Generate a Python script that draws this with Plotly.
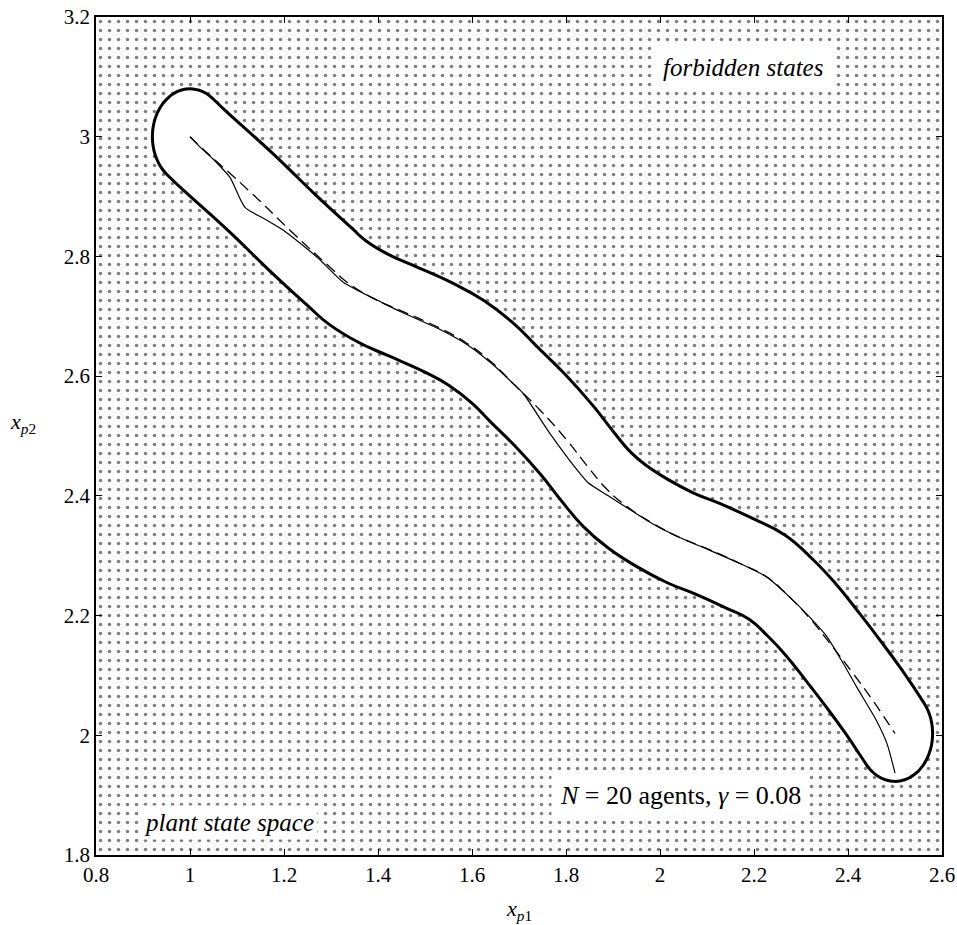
import numpy as np
import plotly.graph_objects as go

# ---- data ----
gamma = 0.08  # tube radius

ref_x = [1.000, 1.028, 1.128, 1.219, 1.298, 1.334, 1.390, 1.447, 1.532, 1.589, 1.645, 1.687,
         1.745, 1.802, 1.845, 1.887, 1.930, 1.985, 2.043, 2.100, 2.170, 2.228, 2.277, 2.319,
         2.368, 2.411, 2.453, 2.500]
ref_y = [3.000, 2.979, 2.908, 2.839, 2.782, 2.757, 2.730, 2.710, 2.680, 2.655, 2.621, 2.588,
         2.543, 2.493, 2.450, 2.411, 2.382, 2.354, 2.330, 2.312, 2.287, 2.264, 2.230, 2.195,
         2.147, 2.103, 2.058, 2.003]

traj_x = [1.000, 1.021, 1.050, 1.085, 1.117, 1.160, 1.198, 1.270, 1.326, 1.411, 1.447, 1.532,
          1.589, 1.645, 1.687, 1.709, 1.766, 1.830, 1.847, 1.890, 1.930, 1.985, 2.043, 2.100,
          2.170, 2.228, 2.277, 2.319, 2.355, 2.390, 2.419, 2.461, 2.483, 2.500]
traj_y = [3.000, 2.983, 2.962, 2.932, 2.882, 2.862, 2.844, 2.799, 2.757, 2.722, 2.708, 2.678,
          2.653, 2.619, 2.588, 2.571, 2.504, 2.437, 2.422, 2.400, 2.380, 2.353, 2.330, 2.311,
          2.287, 2.264, 2.230, 2.197, 2.165, 2.120, 2.080, 2.024, 1.986, 1.937]

x_ticks = [0.8, 1.0, 1.2, 1.4, 1.6, 1.8, 2.0, 2.2, 2.4, 2.6]
x_tick_labels = ["0.8", "1", "1.2", "1.4", "1.6", "1.8", "2", "2.2", "2.4", "2.6"]
y_ticks = [1.8, 2.0, 2.2, 2.4, 2.6, 2.8, 3.0, 3.2]
y_tick_labels = ["1.8", "2", "2.2", "2.4", "2.6", "2.8", "3", "3.2"]
x_range = [0.8, 2.6]
y_range = [1.8, 3.2]

# ---- tube = set of states within gamma of the reference path ----
X = np.array(ref_x)
Y = np.array(ref_y)
tx = np.gradient(X)
ty = np.gradient(Y)
L = np.hypot(tx, ty)
nx, ny = -ty / L, tx / L
ux, uy = X + gamma * nx, Y + gamma * ny
lx, ly = X - gamma * nx, Y - gamma * ny
th_s = np.arctan2(ty[0], tx[0])
th_e = np.arctan2(ty[-1], tx[-1])
a_end = np.linspace(th_e + np.pi / 2, th_e - np.pi / 2, 31)[1:-1]
a_start = np.linspace(th_s - np.pi / 2, th_s - 1.5 * np.pi, 31)[1:-1]
tube_x = np.concatenate([ux, X[-1] + gamma * np.cos(a_end), lx[::-1],
                         X[0] + gamma * np.cos(a_start), ux[:1]])
tube_y = np.concatenate([uy, Y[-1] + gamma * np.sin(a_end), ly[::-1],
                         Y[0] + gamma * np.sin(a_start), uy[:1]])

serif = "Liberation Serif, DejaVu Serif, serif"

fig = go.Figure()

# dotted forbidden region (whole plot area)
fig.add_trace(go.Scatter(
    x=[x_range[0], x_range[1], x_range[1], x_range[0], x_range[0]],
    y=[y_range[0], y_range[0], y_range[1], y_range[1], y_range[0]],
    mode="lines", line=dict(width=0), fill="toself", fillcolor="white",
    fillpattern=dict(shape=".", size=9, solidity=0.12, fgcolor="black", bgcolor="white"),
    hoverinfo="skip", showlegend=False))

# allowed tube
fig.add_trace(go.Scatter(
    x=tube_x, y=tube_y, mode="lines", fill="toself", fillcolor="white",
    line=dict(color="black", width=3, shape="spline", smoothing=1.3),
    hoverinfo="skip", showlegend=False))

# reference path (dashed)
fig.add_trace(go.Scatter(
    x=ref_x, y=ref_y, mode="lines",
    line=dict(color="black", width=1.3, dash="11px,6px", shape="spline", smoothing=1.3),
    showlegend=False))

# actual trajectory
fig.add_trace(go.Scatter(
    x=traj_x, y=traj_y, mode="lines",
    line=dict(color="black", width=1.2, shape="spline", smoothing=0.6),
    showlegend=False))

axis_common = dict(showline=True, linecolor="black", linewidth=1.8, mirror="ticks",
                   ticks="inside", ticklen=6, tickwidth=1.2, tickcolor="black",
                   showgrid=False, zeroline=False, automargin=False,
                   ticklabeloverflow="allow",
                   tickfont=dict(family=serif, size=21, color="black"))

fig.update_xaxes(range=x_range, tickvals=x_ticks, ticktext=x_tick_labels, **axis_common)
fig.update_yaxes(range=y_range, tickvals=y_ticks, ticktext=y_tick_labels, **axis_common)

annotations = [
    dict(x=2.177, y=3.115, xref="x", yref="y", text="<i>forbidden states</i>",
         showarrow=False, bgcolor="white", borderpad=9,
         font=dict(family=serif, size=25, color="black")),
    dict(x=1.083, y=1.854, xref="x", yref="y", text="<i>plant state space</i>",
         showarrow=False, bgcolor="white", borderpad=3,
         font=dict(family=serif, size=25, color="black")),
    dict(x=2.043, y=1.899, xref="x", yref="y",
         text="<i>N</i> = 20 agents, <i>γ</i> = 0.08",
         showarrow=False, bgcolor="white", borderpad=8,
         font=dict(family=serif, size=26, color="black")),
    dict(x=0.5, y=-0.066, xref="paper", yref="paper", xanchor="center", yanchor="middle",
         text="<i>x</i><sub><i>p</i>1</sub>", showarrow=False,
         font=dict(family=serif, size=22, color="black")),
    dict(x=-0.086, y=0.515, xref="paper", yref="paper", xanchor="center", yanchor="middle",
         text="<i>x</i><sub><i>p</i>2</sub>", showarrow=False,
         font=dict(family=serif, size=22, color="black")),
]

fig.update_layout(
    width=957, height=925,
    margin=dict(l=96, r=15, t=17, b=70),
    plot_bgcolor="white", paper_bgcolor="white",
    annotations=annotations, showlegend=False)

# remove the page's default 8px body margin so the figure fills the window exactly
fig.write_html("out.html", config={"displayModeBar": False},
               post_script="document.body.style.margin='0';document.body.style.overflow='hidden';")
